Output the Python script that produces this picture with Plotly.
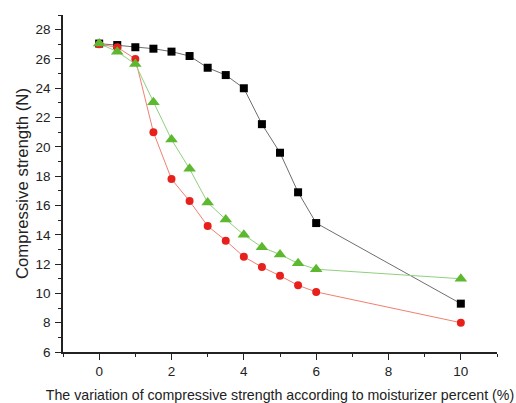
import plotly.graph_objects as go

x_black = [0, 0.5, 1, 1.5, 2, 2.5, 3, 3.5, 4, 4.5, 5, 5.5, 6, 10]
y_black = [27.05, 26.95, 26.8, 26.7, 26.5, 26.2, 25.4, 24.9, 24.0, 21.55, 19.6, 16.9, 14.8, 9.3]

x_red = [0, 0.5, 1, 1.5, 2, 2.5, 3, 3.5, 4, 4.5, 5, 5.5, 6, 10]
y_red = [27.0, 26.8, 26.0, 21.0, 17.8, 16.3, 14.6, 13.6, 12.5, 11.8, 11.2, 10.55, 10.1, 8.0]

x_green = [0, 0.5, 1, 1.5, 2, 2.5, 3, 3.5, 4, 4.5, 5, 5.5, 6, 10]
y_green = [27.05, 26.5, 25.65, 23.05, 20.5, 18.5, 16.2, 15.05, 14.0, 13.15, 12.65, 12.05, 11.65, 11.0]

x_ticks = [0, 2, 4, 6, 8, 10]
y_ticks = [6, 8, 10, 12, 14, 16, 18, 20, 22, 24, 26, 28]

fig = go.Figure()
fig.add_trace(go.Scatter(x=x_black, y=y_black, mode="lines+markers",
                         line=dict(color="#6e6e6e", width=1),
                         marker=dict(symbol="square", size=8, color="black")))
fig.add_trace(go.Scatter(x=x_red, y=y_red, mode="lines+markers",
                         line=dict(color="#f08070", width=1),
                         marker=dict(symbol="circle", size=8, color="#e8201c")))
fig.add_trace(go.Scatter(x=x_green, y=y_green, mode="lines+markers",
                         line=dict(color="#90d080", width=1),
                         marker=dict(symbol="triangle-up", size=11, color="#5cb82e")))

font = "Liberation Sans, Arial, sans-serif"
fig.update_layout(
    width=516, height=403,
    margin=dict(l=63, r=19, t=15, b=51),
    paper_bgcolor="white", plot_bgcolor="white",
    showlegend=False,
    font=dict(family=font, size=13, color="#222"),
)
fig.update_xaxes(
    range=[-1, 11], tickvals=x_ticks, showgrid=False, zeroline=False,
    showline=True, linecolor="#222", linewidth=1.5, automargin=False,
    ticks="outside", ticklen=6, tickwidth=1.2, tickcolor="#222",
    minor=dict(dtick=1, ticks="outside", ticklen=3, tickcolor="#222", tickwidth=1.2),
    tickfont=dict(size=13.5), ticklabelstandoff=0,
    title=dict(text="The variation of compressive strength according to moisturizer percent (%)",
               font=dict(size=14.2), standoff=13),
)
fig.update_yaxes(
    range=[6, 29], tickvals=y_ticks, showgrid=False, zeroline=False,
    showline=True, linecolor="#222", linewidth=1.5, automargin=False,
    ticks="outside", ticklen=6, tickwidth=1.2, tickcolor="#222",
    minor=dict(dtick=1, ticks="outside", ticklen=3, tickcolor="#222", tickwidth=1.2),
    tickfont=dict(size=13.5), ticklabelstandoff=2,
    title=dict(text="Compressive strength (N)", font=dict(size=16.8), standoff=3),
)
fig.write_html("out.html")
